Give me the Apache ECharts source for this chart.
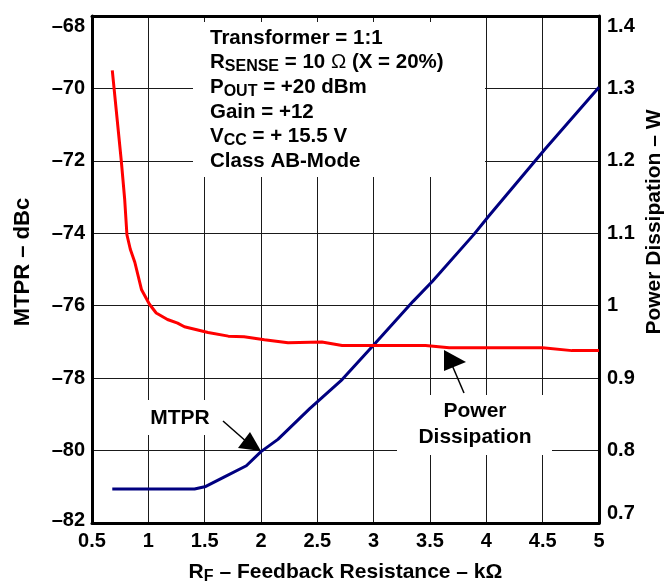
<!DOCTYPE html>
<html>
<head>
<meta charset="utf-8">
<script src="https://cdn.jsdelivr.net/npm/echarts@6/dist/echarts.min.js"></script>
<style>html,body{margin:0;padding:0;background:#fff}#c{width:665px;height:587px}</style>
</head>
<body>
<div id="c"></div>
<script>
// Data
const mtprX = [0.68, 1.0, 1.41, 1.51, 1.68, 1.87, 2.0, 2.15, 2.43, 2.72, 3.01, 3.35, 3.52, 3.89, 4.02, 4.52, 5.0];
const mtprY = [-81.06, -81.06, -81.06, -80.99, -80.72, -80.42, -80.03, -79.69, -78.85, -78.04, -77.05, -75.88, -75.33, -74.03, -73.53, -71.68, -69.97];
const powerX = [0.68, 0.76, 0.79, 0.81, 0.84, 0.88, 0.94, 1.01, 1.07, 1.17, 1.26, 1.32, 1.53, 1.71, 1.85, 2.03, 2.24, 2.54, 2.72, 3.46, 3.67, 4.5, 4.76, 5.0];
const powerW = [1.325, 1.200, 1.147, 1.098, 1.078, 1.060, 1.022, 1.002, 0.990, 0.981, 0.976, 0.971, 0.963, 0.958, 0.957, 0.953, 0.949, 0.950, 0.945, 0.945, 0.942, 0.942, 0.938, 0.938];
const xRange = [0.5, 5, 0.5];
const leftRange = [-82, -68, 2];
const rightRange = [0.7, 1.4, 0.1];

const FONT = 'Liberation Sans, Arial, sans-serif';
const fmt = v => { const n = +(+v).toFixed(2); return n < 0 ? '\u2013' + Math.abs(n) : String(n); };

const chart = echarts.init(document.getElementById('c'), null, {renderer: 'canvas'});
const gridStyle = {show: true, lineStyle: {color: '#1a1a1a', width: 1}};
const labelStyle = {fontFamily: FONT, fontWeight: 'bold', fontSize: 20, color: '#000'};
const thick = {show: true, onZero: false, lineStyle: {color: '#000', width: 3}};

chart.setOption({
  animation: false,
  backgroundColor: '#fff',
  grid: {left: 92, right: 66, top: 16, bottom: 64, show: false, containLabel: false, outerBoundsMode: 'none'},
  xAxis: [{
    type: 'value', min: xRange[0], max: xRange[1], interval: xRange[2],
    axisLine: thick,
    axisTick: {show: false},
    splitLine: gridStyle,
    axisLabel: Object.assign({formatter: fmt, margin: 8}, labelStyle),
    name: '{a|R}{s|F}{a| \u2013 Feedback Resistance \u2013 k\u03A9}',
    nameLocation: 'middle', nameGap: 37,
    nameTextStyle: {rich: {
      a: {fontFamily: FONT, fontWeight: 'bold', fontSize: 21, color: '#000'},
      s: {fontFamily: FONT, fontWeight: 'bold', fontSize: 16, color: '#000', padding: [9, 0, 0, 0]}
    }}
  }, {
    type: 'value', min: xRange[0], max: xRange[1], interval: xRange[2], position: 'top',
    axisLine: thick, axisTick: {show: false}, axisLabel: {show: false}, splitLine: {show: false}
  }],
  yAxis: [{
    type: 'value', min: leftRange[0], max: leftRange[1], interval: leftRange[2],
    position: 'left',
    axisLine: thick,
    axisTick: {show: false},
    splitLine: gridStyle,
    axisLabel: Object.assign({
      formatter: v => v === leftRange[0] ? '{m|' + fmt(v) + '}' : fmt(v),
      rich: {m: {fontFamily: FONT, fontWeight: 'bold', fontSize: 20, color: '#000', padding: [0, 0, 6, 0]}},
      margin: 7, verticalAlignMaxLabel: 'top'}, labelStyle)
  }, {
    type: 'value', min: rightRange[0], max: rightRange[1], interval: rightRange[2],
    position: 'right',
    axisLine: thick,
    axisTick: {show: false},
    splitLine: {show: false},
    axisLabel: Object.assign({formatter: fmt, margin: 8, verticalAlignMinLabel: 'bottom', verticalAlignMaxLabel: 'top'}, labelStyle)
  }],
  series: [{
    type: 'line', yAxisIndex: 0, symbol: 'none', z: 10,
    data: mtprX.map((x, i) => [x, mtprY[i]]),
    lineStyle: {color: '#000080', width: 3}
  }, {
    type: 'line', yAxisIndex: 1, symbol: 'none', z: 10,
    data: powerX.map((x, i) => [x, powerW[i]]),
    lineStyle: {color: '#ff0000', width: 3}
  }],
  graphic: [
    {type: 'text', z: 6, x: 23, y: 262, rotation: Math.PI / 2, style: {x: 0, y: 0, align: 'center', verticalAlign: 'middle', text: 'MTPR \u2013 dBc', font: 'bold 22px ' + FONT, fill: '#000'}},
    {type: 'text', z: 6, x: 654, y: 222, rotation: Math.PI / 2, style: {x: 0, y: 0, align: 'center', verticalAlign: 'middle', text: 'Power Dissipation \u2013 W', font: 'bold 21px ' + FONT, fill: '#000'}},
    {type: 'rect', z: 5, shape: {x: 193, y: 22, width: 292, height: 155}, style: {fill: '#fff'}},
    {type: 'rect', z: 5, shape: {x: 140, y: 400, width: 75, height: 35}, style: {fill: '#fff'}},
    {type: 'rect', z: 5, shape: {x: 397, y: 395, width: 155, height: 60}, style: {fill: '#fff'}},
    {type: 'text', z: 6, style: {
      x: 210, y: 26,
      text: '{b|Transformer = 1:1}\n{b|R}{s|SENSE}{b| = 10 }{o|\u03A9}{b| (X = 20%)}\n{b|P}{s|OUT}{b| = +20 dBm}\n{b|Gain = +12}\n{b|V}{s|CC}{b| = + 15.5 V}\n{b|Class AB-Mode}',
      rich: {
        b: {fontFamily: FONT, fontWeight: 'bold', fontSize: 20.5, lineHeight: 24, fill: '#000'},
        o: {fontFamily: FONT, fontWeight: 'normal', fontSize: 20.5, lineHeight: 24, fill: '#000'},
        s: {fontFamily: FONT, fontWeight: 'bold', fontSize: 16, fill: '#000', padding: [9, 0, 0, 0]}
      }
    }},
    {type: 'text', z: 6, style: {x: 180, y: 418, align: 'center', verticalAlign: 'middle', text: 'MTPR', font: 'bold 21px ' + FONT, fill: '#000'}},
    {type: 'text', z: 6, style: {x: 475, y: 411, align: 'center', verticalAlign: 'middle', text: 'Power', font: 'bold 21px ' + FONT, fill: '#000'}},
    {type: 'text', z: 6, style: {x: 475, y: 437, align: 'center', verticalAlign: 'middle', text: 'Dissipation', font: 'bold 21px ' + FONT, fill: '#000'}},
    {type: 'line', z: 6, shape: {x1: 223, y1: 421, x2: 248, y2: 443}, style: {stroke: '#000', lineWidth: 1.5}},
    {type: 'polygon', z: 6, shape: {points: [[261, 451], [238, 448], [250, 432]]}, style: {fill: '#000'}},
    {type: 'line', z: 6, shape: {x1: 464, y1: 393, x2: 452, y2: 365}, style: {stroke: '#000', lineWidth: 1.5}},
    {type: 'polygon', z: 6, shape: {points: [[444, 350], [444, 371], [466, 362]]}, style: {fill: '#000'}}
  ]
});
</script>
</body>
</html>
